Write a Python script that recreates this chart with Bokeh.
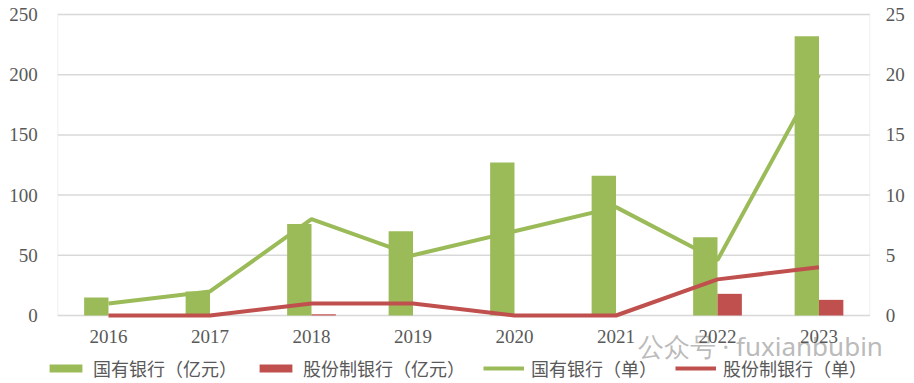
from bokeh.plotting import figure
from bokeh.models import (ColumnDataSource, Range1d, LinearAxis, BoxAnnotation,
                          Legend, LegendItem, Label, FixedTicker)
from bokeh.transform import dodge
from bokeh.embed import file_html
from bokeh.resources import INLINE

years = ["2016", "2017", "2018", "2019", "2020", "2021", "2022", "2023"]
state_amt = [15, 20, 76, 70, 127, 116, 65, 232]      # 国有银行（亿元）
joint_amt = [0, 0, 1, 0, 0, 0, 18, 13]               # 股份制银行（亿元）
state_cnt = [1, 2, 8, 5, 7, 9, 4.6, 20]              # 国有银行（单）
joint_cnt = [0, 0, 1, 1, 0, 0, 3, 4]                 # 股份制银行（单）

left_ticks = [0, 50, 100, 150, 200, 250]
right_ticks = [0, 5, 10, 15, 20, 25]

GREEN = "#9BBB59"
RED = "#C0504D"
TXT = "#595959"
GRID = "#D9D9D9"

idx = list(range(len(years)))
src = ColumnDataSource(dict(i=idx, year=years, sa=state_amt, ja=joint_amt,
                            sc=state_cnt, jc=joint_cnt))

# whole canvas is the frame; ranges chosen so the plot area sits at
# x 58..870, y 14..315 of the 914x383 picture
W, H = 914, 383
step = 101.5
x0 = -108 / step
x1 = (W - 108) / step
ppu = 301 / 250.0
y0 = -(H - 315) / ppu
y1 = 250 + 14 / ppu
lo, hi = -0.5, len(years) - 0.5

p = figure(x_range=Range1d(x0, x1), y_range=Range1d(y0, y1),
           width=W, height=H, min_border=0,
           min_border_left=0, min_border_right=0, min_border_top=0,
           min_border_bottom=0,
           output_backend="svg", toolbar_location=None)
p.extra_y_ranges = {"cnt": Range1d(y0 / 10, y1 / 10)}

# gridlines limited to the plot area
gsrc = ColumnDataSource(dict(y=left_ticks, a=[lo] * len(left_ticks),
                             b=[hi] * len(left_ticks)))
p.segment(x0="a", x1="b", y0="y", y1="y", source=gsrc,
          line_color=GRID, line_width=1.5)
p.add_layout(BoxAnnotation(left=lo, right=hi, bottom=left_ticks[0],
                           top=left_ticks[-1], fill_alpha=0,
                           line_color=GRID, line_width=1.5, level="underlay"))

b1 = p.vbar(x=dodge("i", -0.12), top="sa", width=0.24,
            source=src, fill_color=GREEN, line_color=None)
b2 = p.vbar(x=dodge("i", 0.12), top="ja", width=0.24,
            source=src, fill_color=RED, line_color=None)
l1 = p.line(x="i", y="sc", source=src, y_range_name="cnt",
            line_color=GREEN, line_width=4)
l2 = p.line(x="i", y="jc", source=src, y_range_name="cnt",
            line_color=RED, line_width=4)

xa = p.xaxis[0]
xa.ticker = FixedTicker(ticks=idx)
xa.major_label_overrides = {i: y for i, y in zip(idx, years)}
xa.fixed_location = 0

la = p.yaxis[0]
la.ticker = FixedTicker(ticks=left_ticks)
la.fixed_location = lo

ra = LinearAxis(y_range_name="cnt", ticker=FixedTicker(ticks=right_ticks))
ra.fixed_location = hi
p.add_layout(ra, "right")

for ax in [xa, la, ra]:
    ax.axis_line_color = None
    ax.major_tick_line_color = None
    ax.minor_tick_line_color = None
    ax.major_tick_out = 0
    ax.major_tick_in = 0
    ax.major_label_text_font = "Liberation Serif"
    ax.major_label_text_font_size = "19px"
    ax.major_label_text_color = TXT
la.major_label_standoff = 20
ra.major_label_standoff = 16
xa.major_label_standoff = 14

p.xgrid.grid_line_color = None
p.ygrid.grid_line_color = None
p.outline_line_color = None
p.background_fill_color = "white"
p.border_fill_color = "white"

legend = Legend(items=[
    LegendItem(label="国有银行（亿元）", renderers=[b1]),
    LegendItem(label="股份制银行（亿元）", renderers=[b2]),
    LegendItem(label="国有银行（单）", renderers=[l1]),
    LegendItem(label="股份制银行（单）", renderers=[l2]),
], orientation="horizontal", location=(45, 2),
    glyph_width=41, glyph_height=10, label_standoff=7, spacing=18,
    label_text_font="Noto Sans CJK SC", label_text_font_size="18px",
    label_text_color=TXT, border_line_color=None, background_fill_alpha=0,
    padding=2, margin=0)
p.add_layout(legend, "center")

wm = Label(x=637, y=38, x_units="screen", y_units="screen",
           text="公众号 · fuxianbubin", text_font="Noto Sans",
           text_font_size="26px", text_color="#A8A8A8", text_alpha=0.8,
           text_baseline="middle", text_align="left", level="underlay")
p.add_layout(wm)

open("out.html", "w").write(file_html(p, INLINE))
